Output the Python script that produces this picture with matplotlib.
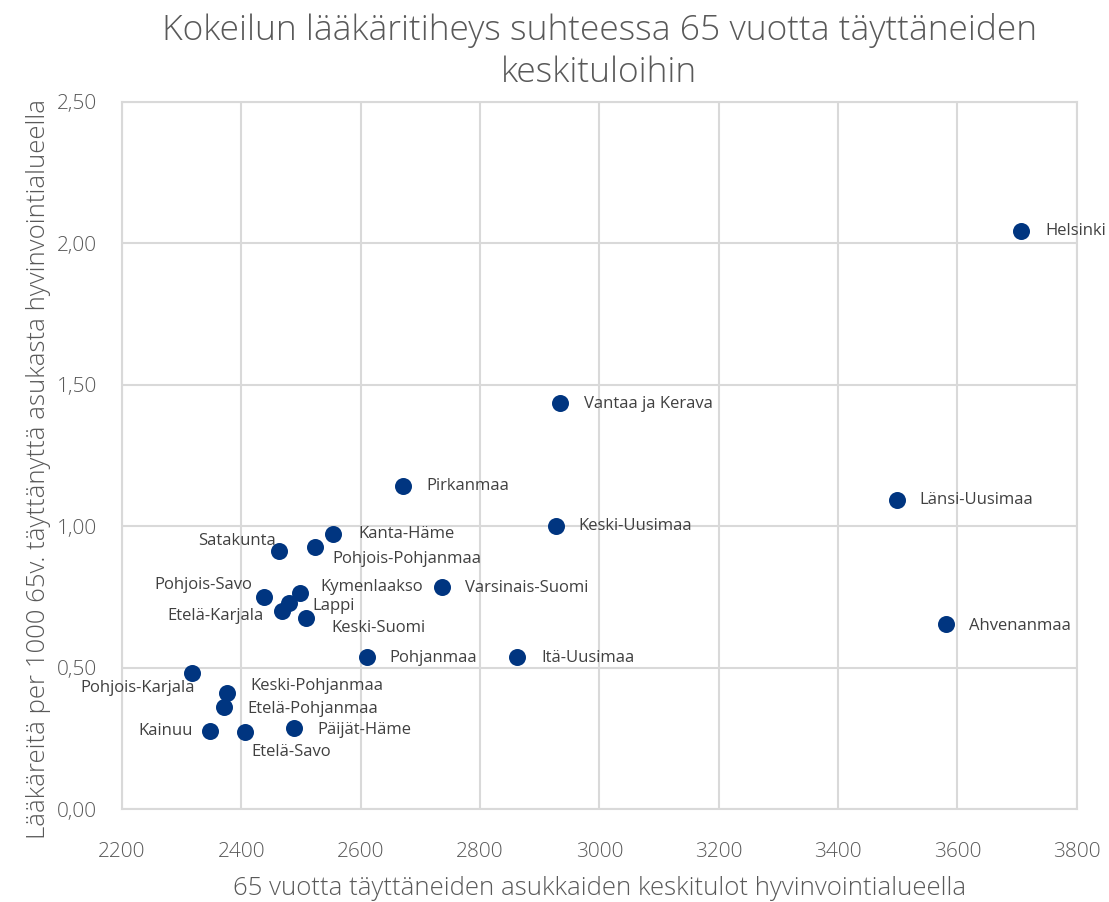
import matplotlib
matplotlib.use("Agg")
import matplotlib.pyplot as plt
from matplotlib.ticker import FuncFormatter, MultipleLocator

# data
regions = ["Helsinki", "Vantaa ja Kerava", "Pirkanmaa", "Länsi-Uusimaa", "Keski-Uusimaa",
           "Kanta-Häme", "Pohjois-Pohjanmaa", "Satakunta", "Varsinais-Suomi", "Kymenlaakso",
           "Pohjois-Savo", "Lappi", "Etelä-Karjala", "Keski-Suomi", "Ahvenanmaa",
           "Pohjanmaa", "Itä-Uusimaa", "Pohjois-Karjala", "Keski-Pohjanmaa",
           "Etelä-Pohjanmaa", "Kainuu", "Etelä-Savo", "Päijät-Häme"]
income = [3706, 2934, 2671, 3498, 2927,
          2553, 2523, 2463, 2736, 2498,
          2438, 2480, 2468, 2508, 3580,
          2610, 2862, 2317, 2376,
          2371, 2347, 2406, 2488]
doctors = [2.044, 1.436, 1.142, 1.093, 1.001,
           0.972, 0.926, 0.912, 0.785, 0.764,
           0.750, 0.728, 0.700, 0.675, 0.654,
           0.537, 0.537, 0.481, 0.410,
           0.361, 0.276, 0.272, 0.286]

# label placement (pixel offsets, alignment)
label_pos = {
    "Helsinki": (25, 0, "left"), "Vantaa ja Kerava": (24, -1, "left"),
    "Pirkanmaa": (23, 0, "left"), "Länsi-Uusimaa": (23, 0, "left"),
    "Keski-Uusimaa": (23, 0, "left"), "Kanta-Häme": (26, 0, "left"),
    "Pohjois-Pohjanmaa": (18, -12, "left"), "Satakunta": (-3, 10, "right"),
    "Varsinais-Suomi": (23, -1, "left"), "Kymenlaakso": (21, 6, "left"),
    "Pohjois-Savo": (-12, 12, "right"), "Lappi": (23, -3, "left"),
    "Etelä-Karjala": (-18, -5, "right"), "Keski-Suomi": (26, -10, "left"),
    "Ahvenanmaa": (23, -2, "left"), "Pohjanmaa": (23, -1, "left"),
    "Itä-Uusimaa": (24, -1, "left"), "Pohjois-Karjala": (3, -15, "right"),
    "Keski-Pohjanmaa": (23, 7, "left"), "Etelä-Pohjanmaa": (23, -2, "left"),
    "Kainuu": (-17, 0, "right"), "Etelä-Savo": (6, -20, "left"),
    "Päijät-Häme": (24, -2, "left"),
}

plt.rcParams['font.family'] = ['Open Sans', 'DejaVu Sans']
grey = "#595959"
gridc = "#d9d9d9"

fig = plt.figure(figsize=(11.09, 9.02), dpi=100)
ax = fig.add_axes([0.110, 0.103, 0.861, 0.784])

ax.scatter(income, doctors, s=150, color="#003580", zorder=3, linewidths=0)
for name, x, y in zip(regions, income, doctors):
    dx, dy, ha = label_pos[name]
    ax.annotate(name, (x, y), xytext=(dx, dy), textcoords="offset pixels",
                ha=ha, va="center", fontsize=12, color="#404040")

ax.set_xlim(2200, 3800)
ax.set_ylim(0, 2.5)
ax.xaxis.set_major_locator(MultipleLocator(200))
ax.yaxis.set_major_locator(MultipleLocator(0.5))
ax.yaxis.set_major_formatter(FuncFormatter(lambda v, p: f"{v:.2f}".replace(".", ",")))
ax.grid(True, color=gridc, linewidth=1.5, zorder=0)
ax.set_axisbelow(True)
for s in ax.spines.values():
    s.set_color(gridc)
    s.set_linewidth(1.5)
ax.tick_params(length=0, labelsize=15, colors=grey)
ax.tick_params(axis="x", pad=24)
ax.tick_params(axis="y", pad=18)
for lab in ax.get_xticklabels() + ax.get_yticklabels():
    lab.set_fontweight("light")

ax.set_title("Kokeilun lääkäritiheys suhteessa 65 vuotta täyttäneiden\nkeskituloihin",
             fontsize=25.5, color=grey, pad=14, linespacing=1.3, fontweight="light")
ax.set_xlabel("65 vuotta täyttäneiden asukkaiden keskitulot hyvinvointialueella",
              fontsize=18.5, color=grey, labelpad=10, fontweight="light")
ax.set_ylabel("Lääkäreitä per 1000 65v. täyttänyttä asukasta hyvinvointialueella",
              fontsize=18.5, color=grey, fontweight="light")
ax.yaxis.set_label_coords(-0.074, 0.481)

fig.savefig("out.png", dpi=100)
